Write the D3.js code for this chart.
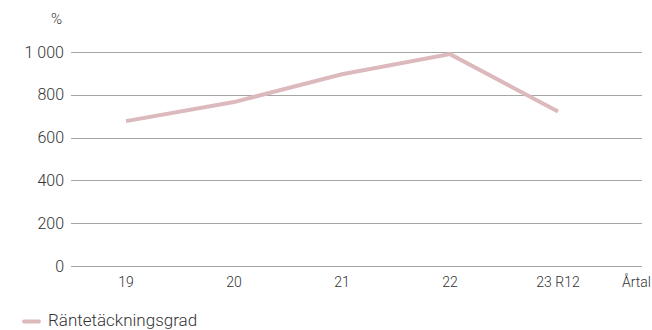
<!DOCTYPE html>
<html lang="sv">
<head>
    <meta charset="UTF-8">
    <title>Räntetäckningsgrad</title>
    <script src="https://d3js.org/d3.v7.min.js"></script>
    <style>
        body { margin: 0; background: #fff; }
        text { font-family: Roboto, "Noto Sans", sans-serif; font-weight: 300; fill: #333; }
    </style>
</head>
<body>
    <div id="chart"></div>
    <script>
        // data
        var years = ["19", "20", "21", "22", "23 R12"];
        var coverage = [677, 766, 896, 990, 722];
        var yTicks = [0, 200, 400, 600, 800, 1000];

        var width = 652, height = 330;

        var svg = d3.select("#chart").append("svg")
            .attr("width", width)
            .attr("height", height);

        var x = d3.scalePoint()
            .domain(years)
            .range([126, 558]);

        var y = d3.scaleLinear()
            .domain([0, 1000])
            .range([266, 52]);

        var fmt = function (d) {
            return d3.format(",")(d).replace(/,/g, " ");
        };

        // gridlines
        svg.append("g")
            .selectAll("line")
            .data(yTicks)
            .enter()
            .append("line")
            .attr("x1", 71)
            .attr("x2", 642)
            .attr("y1", d => Math.round(y(d)) + 0.5)
            .attr("y2", d => Math.round(y(d)) + 0.5)
            .attr("stroke", "#a6a6a6")
            .attr("stroke-width", 1);

        // y labels
        svg.append("g")
            .selectAll("text")
            .data(yTicks)
            .enter()
            .append("text")
            .attr("x", 64)
            .attr("y", d => y(d))
            .attr("dy", "0.35em")
            .attr("text-anchor", "end")
            .attr("font-size", 16)
            .text(fmt);

        svg.append("text")
            .attr("x", 62)
            .attr("y", 24)
            .attr("text-anchor", "end")
            .attr("font-size", 15)
            .text("%");

        // x labels
        svg.append("g")
            .selectAll("text")
            .data(years)
            .enter()
            .append("text")
            .attr("x", d => x(d))
            .attr("y", 287)
            .attr("text-anchor", "middle")
            .attr("font-size", 14)
            .text(d => d);

        svg.append("text")
            .attr("x", 651)
            .attr("y", 287)
            .attr("text-anchor", "end")
            .attr("font-size", 14)
            .text("Årtal");

        // line
        var line = d3.line()
            .x((d, i) => x(years[i]))
            .y(d => y(d));

        svg.append("path")
            .datum(coverage)
            .attr("d", line)
            .attr("fill", "none")
            .attr("stroke", "#dcb9bd")
            .attr("stroke-width", 4);

        // legend
        svg.append("line")
            .attr("x1", 24)
            .attr("x2", 39)
            .attr("y1", 321.5)
            .attr("y2", 321.5)
            .attr("stroke", "#dcb9bd")
            .attr("stroke-width", 4)
            .attr("stroke-linecap", "round");

        svg.append("text")
            .attr("x", 48)
            .attr("y", 326)
            .attr("font-size", 17)
            .text("Räntetäckningsgrad");
    </script>
</body>
</html>
